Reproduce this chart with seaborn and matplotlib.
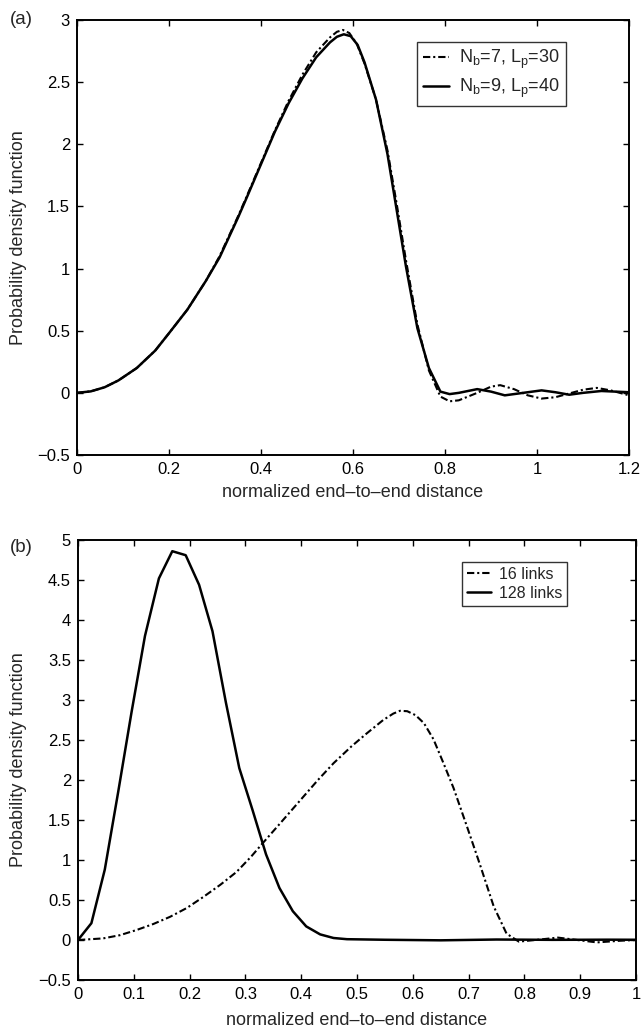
import numpy as np
import pandas as pd
import matplotlib
matplotlib.use("Agg")
import matplotlib.pyplot as plt
from matplotlib.ticker import FuncFormatter
import seaborn as sns

# ---------------- data: panel (a) ----------------
a_solid_x = [0, 0.03, 0.06, 0.09, 0.13, 0.17, 0.20, 0.24, 0.28, 0.31, 0.35, 0.37, 0.40,
             0.43, 0.46, 0.49, 0.52, 0.55, 0.565, 0.58, 0.595, 0.61, 0.625, 0.65, 0.675,
             0.695, 0.715, 0.74, 0.765, 0.79, 0.81, 0.83, 0.87, 0.90, 0.93, 0.97, 1.01,
             1.04, 1.07, 1.10, 1.14, 1.17, 1.20]
a_solid_y = [0, 0.012, 0.045, 0.10, 0.20, 0.34, 0.48, 0.67, 0.90, 1.09, 1.41, 1.58, 1.84,
             2.10, 2.33, 2.53, 2.70, 2.82, 2.865, 2.885, 2.87, 2.80, 2.66, 2.36, 1.92,
             1.47, 1.02, 0.52, 0.20, 0.01, -0.01, 0.00, 0.03, 0.01, -0.02, 0.00, 0.02,
             0.005, -0.015, 0.00, 0.015, 0.01, 0.005]
a_dash_x = [0, 0.03, 0.06, 0.09, 0.13, 0.17, 0.20, 0.24, 0.28, 0.31, 0.35, 0.37, 0.40,
            0.43, 0.46, 0.49, 0.52, 0.55, 0.565, 0.578, 0.592, 0.608, 0.625, 0.65, 0.675,
            0.695, 0.715, 0.74, 0.765, 0.79, 0.81, 0.83, 0.87, 0.90, 0.92, 0.95, 0.98,
            1.01, 1.04, 1.07, 1.10, 1.13, 1.16, 1.20]
a_dash_y = [0, 0.012, 0.045, 0.10, 0.20, 0.34, 0.48, 0.67, 0.90, 1.10, 1.42, 1.59, 1.85,
            2.11, 2.35, 2.56, 2.74, 2.86, 2.905, 2.92, 2.895, 2.81, 2.65, 2.36, 1.95,
            1.52, 1.07, 0.55, 0.18, -0.03, -0.068, -0.06, 0.00, 0.05, 0.062, 0.03, -0.02,
            -0.046, -0.035, -0.005, 0.025, 0.04, 0.02, -0.02]
a_labels = ["N$_b$=7, L$_p$=30", "N$_b$=9, L$_p$=40"]

# ---------------- data: panel (b) ----------------
b_dash_x = [0, 0.045, 0.075, 0.105, 0.135, 0.165, 0.195, 0.225, 0.255, 0.284, 0.31, 0.331,
            0.36, 0.38, 0.40, 0.43, 0.458, 0.49, 0.517, 0.547, 0.565, 0.577, 0.59, 0.605,
            0.62, 0.637, 0.655, 0.673, 0.697, 0.72, 0.745, 0.768, 0.79, 0.82, 0.86, 0.895,
            0.93, 0.97, 1.0]
b_dash_y = [0, 0.02, 0.06, 0.125, 0.20, 0.29, 0.40, 0.54, 0.69, 0.85, 1.04, 1.21,
            1.44, 1.60, 1.76, 2.00, 2.21, 2.42, 2.58, 2.75, 2.83, 2.865, 2.86, 2.81,
            2.71, 2.51, 2.21, 1.90, 1.42, 0.95, 0.42, 0.08, -0.02, 0.00, 0.03, 0.00,
            -0.03, -0.01, 0.0]
b_solid_x = [0, 0.024, 0.048, 0.072, 0.096, 0.120, 0.145, 0.169, 0.193, 0.217, 0.241,
             0.265, 0.289, 0.313, 0.337, 0.361, 0.385, 0.409, 0.434, 0.458, 0.482,
             0.55, 0.65, 0.75, 0.85, 0.95, 1.0]
b_solid_y = [0, 0.21, 0.88, 1.85, 2.85, 3.80, 4.52, 4.86, 4.81, 4.44, 3.86,
             2.97, 2.15, 1.62, 1.07, 0.65, 0.36, 0.17, 0.07, 0.025, 0.01,
             0.003, -0.004, 0.006, 0.002, 0.004, 0.003]
b_labels = ["16 links", "128 links"]

xlabel = "normalized end\u2013to\u2013end distance"
ylabel = "Probability density function"

# ---------------- style ----------------
sns.set_style("ticks")
plt.rcParams["font.family"] = ["Liberation Sans", "DejaVu Sans"]
plt.rcParams["mathtext.default"] = "regular"
plt.rcParams["font.size"] = 12

DASHDOT = (0, (3.5, 1.4, 1.0, 1.4))
TICK_FS = 12
LABEL_FS = 13

fig = plt.figure(figsize=(6.43, 10.33), dpi=100)
ax_a = fig.add_axes([77 / 643, 1 - 455 / 1033, 552 / 643, 435 / 1033])
ax_b = fig.add_axes([78 / 643, 1 - 980 / 1033, 558 / 643, 440 / 1033])

fmt = FuncFormatter(lambda v, p: ("%g" % round(v, 3)).replace("-", "\u2212"))


def style_axes(ax, xlim, ylim, xt, yt, ylab_x, xlab_y):
    ax.set_xlim(*xlim)
    ax.set_ylim(*ylim)
    ax.set_xticks(xt)
    ax.set_yticks(yt)
    ax.xaxis.set_major_formatter(fmt)
    ax.yaxis.set_major_formatter(fmt)
    ax.tick_params(direction="in", top=True, right=True, length=4.5, width=1.0,
                   labelsize=TICK_FS, colors="black", pad=5)
    for s in ax.spines.values():
        s.set_visible(True)
        s.set_linewidth(1.4)
        s.set_color("black")
    ax.set_xlabel(xlabel, fontsize=LABEL_FS)
    ax.set_ylabel(ylabel, fontsize=LABEL_FS)
    ax.yaxis.set_label_coords(ylab_x, 0.5)
    ax.xaxis.set_label_coords(0.5, xlab_y)


# panel (a)
da1 = pd.DataFrame({"x": a_dash_x, "y": a_dash_y})
da2 = pd.DataFrame({"x": a_solid_x, "y": a_solid_y})
sns.lineplot(data=da1, x="x", y="y", ax=ax_a, color="black", lw=1.5, linestyle=DASHDOT,
             estimator=None, sort=False, label=a_labels[0])
sns.lineplot(data=da2, x="x", y="y", ax=ax_a, color="black", lw=1.8,
             estimator=None, sort=False, label=a_labels[1])
style_axes(ax_a, (0, 1.2), (-0.5, 3), np.arange(0, 1.21, 0.2), np.arange(-0.5, 3.01, 0.5),
           -0.09, -0.066)
leg = ax_a.legend(loc="upper right", bbox_to_anchor=(0.886, 0.95), frameon=True,
                  fancybox=False, edgecolor="black", fontsize=13, handlelength=1.45,
                  borderpad=0.35, labelspacing=0.3, handletextpad=0.55, borderaxespad=0)
leg.get_frame().set_linewidth(1.0)

# panel (b)
db1 = pd.DataFrame({"x": b_dash_x, "y": b_dash_y})
db2 = pd.DataFrame({"x": b_solid_x, "y": b_solid_y})
sns.lineplot(data=db1, x="x", y="y", ax=ax_b, color="black", lw=1.5, linestyle=DASHDOT,
             estimator=None, sort=False, label=b_labels[0])
sns.lineplot(data=db2, x="x", y="y", ax=ax_b, color="black", lw=1.8,
             estimator=None, sort=False, label=b_labels[1])
style_axes(ax_b, (0, 1), (-0.5, 5), np.arange(0, 1.01, 0.1), np.arange(-0.5, 5.01, 0.5),
           -0.091, -0.072)
leg = ax_b.legend(loc="upper right", bbox_to_anchor=(0.876, 0.95), frameon=True,
                  fancybox=False, edgecolor="black", fontsize=11.5, handlelength=1.5,
                  borderpad=0.3, labelspacing=0.25, handletextpad=0.5, borderaxespad=0)
leg.get_frame().set_linewidth(1.0)

fig.text(10 / 643, 1 - 20 / 1033, "(a)", fontsize=13.5, va="center", ha="left")
fig.text(10 / 643, 1 - 547 / 1033, "(b)", fontsize=13.5, va="center", ha="left")

fig.savefig("out.png", dpi=100)
